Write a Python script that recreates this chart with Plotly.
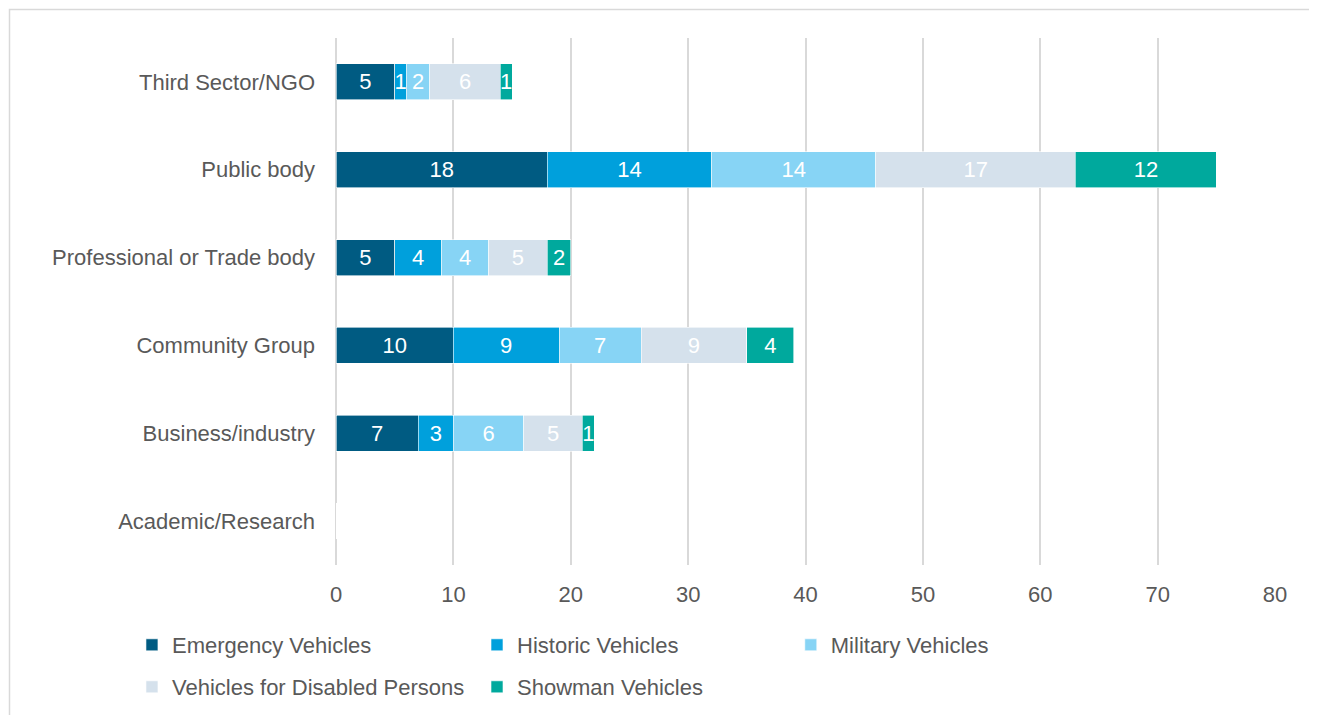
import plotly.graph_objects as go

categories = ["Academic/Research", "Business/industry", "Community Group",
              "Professional or Trade body", "Public body", "Third Sector/NGO"]
series_names = ["Emergency Vehicles", "Historic Vehicles", "Military Vehicles",
                "Vehicles for Disabled Persons", "Showman Vehicles"]
emergency = [0, 7, 10, 5, 18, 5]
historic = [0, 3, 9, 4, 14, 1]
military = [0, 6, 7, 4, 14, 2]
disabled = [0, 5, 9, 5, 17, 6]
showman = [0, 1, 4, 2, 12, 1]
x_ticks = [0, 10, 20, 30, 40, 50, 60, 70, 80]

colors = ["#005B82", "#00A0DC", "#87D4F5", "#D5E1EC", "#00A99D"]
values = [emergency, historic, military, disabled, showman]
# legend placement (container coords) for each series
legend_pos = [(0.0947, 0.099), (0.3583, 0.099), (0.598, 0.099),
              (0.0947, 0.0396), (0.3583, 0.0396)]

W, H = 1309, 707
L, R, T, B = 328, 42, 30, 150
PW, PH = W - L - R, H - T - B

FONT = "Liberation Sans, Arial, sans-serif"
FS = 22
fig = go.Figure()
for i, (name, vals) in enumerate(zip(series_names, values)):
    lg = f"legend{i+2}"
    fig.add_trace(go.Bar(
        y=categories, x=vals, name=name, orientation="h",
        marker=dict(color=colors[i], line=dict(color="white", width=0.6)),
        text=[str(v) if v > 0 else "" for v in vals],
        textposition="inside", insidetextanchor="middle",
        textfont=dict(color="white", size=FS, family=FONT),
        cliponaxis=False, legend=lg, width=0.41,
        hoverinfo="x+y+name",
    ))

layout_legends = {}
for i, (lx, ly) in enumerate(legend_pos):
    key = f"legend{i+2}"
    layout_legends[key] = dict(
        x=lx, y=ly, xref="container", yref="container",
        xanchor="left", yanchor="middle",
        font=dict(size=FS, color="#595959", family=FONT),
        bgcolor="rgba(0,0,0,0)", itemwidth=30,
    )

fig.update_layout(
    barmode="stack",
    width=W, height=H,
    margin=dict(l=L, r=R, t=T, b=B, autoexpand=False),
    paper_bgcolor="white", plot_bgcolor="white",
    font=dict(family=FONT, size=FS, color="#595959"),
    uniformtext=dict(minsize=FS, mode="show"),
    xaxis=dict(range=[0, 80], tickvals=x_ticks, showgrid=True,
               gridcolor="#D9D9D9", gridwidth=1.5, zeroline=True,
               zerolinecolor="#D9D9D9", zerolinewidth=1.5,
               ticks="", tickfont=dict(size=FS, color="#595959"),
               ticklabelstandoff=14, automargin=False, fixedrange=True),
    yaxis=dict(categoryorder="array", categoryarray=categories,
               range=[-0.5, 5.5], showgrid=False, zeroline=False,
               ticks="", tickfont=dict(size=FS, color="#595959"),
               ticklabelstandoff=20, automargin=False, fixedrange=True),
    shapes=[dict(type="rect", xref="paper", yref="paper",
                 x0=(1.5 - L) / PW, x1=(W - 1 - L) / PW,
                 y0=-0.5, y1=1 + (T - 1.5) / PH,
                 line=dict(color="#D9D9D9", width=1.5), layer="below")],
    **layout_legends,
)

fig.write_html("out.html")
